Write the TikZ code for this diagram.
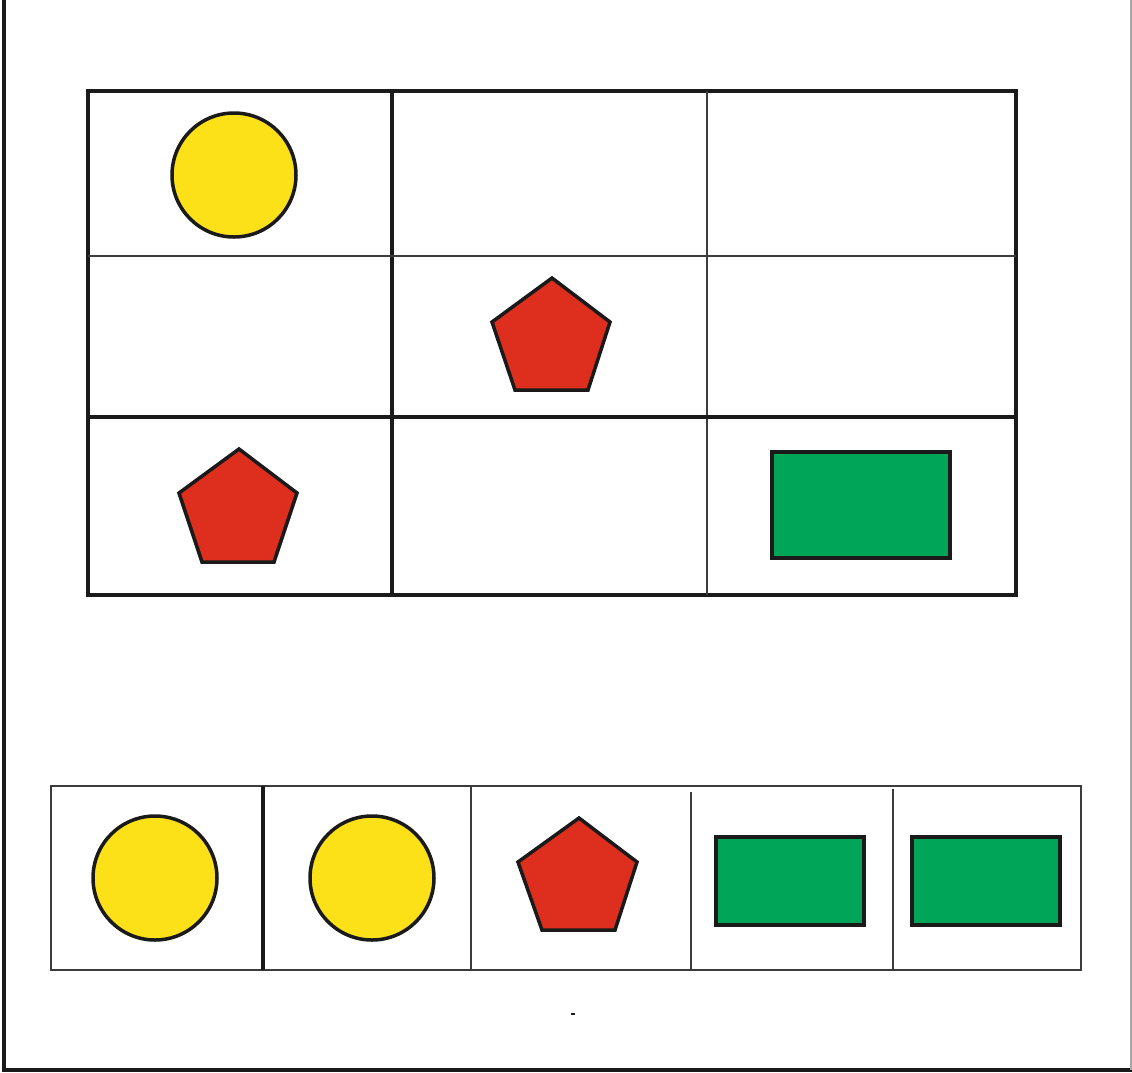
\documentclass[tikz,border=0pt]{standalone}
\definecolor{shpyellow}{HTML}{FCE118}
\definecolor{shpred}{HTML}{DE2E1E}
\definecolor{shpgreen}{HTML}{00A557}
\definecolor{ink}{HTML}{1A1A1A}
\begin{document}
\begin{tikzpicture}[x=1pt,y=-1pt,
  gridline/.style={draw=ink,line width=3.5pt},
  thinline/.style={draw=ink!85,line width=2pt},
  shp/.style={draw=ink,line width=3.5pt,line join=miter},
  circ/.style={shp,fill=shpyellow},
  pent/.style={shp,fill=shpred},
  rectshp/.style={shp,fill=shpgreen}]
\useasboundingbox (0,0) rectangle (1132,1072);
% page frame
\draw[draw=ink,line width=3.5pt] (4,0) -- (4,1070) -- (1132,1070);
\draw[draw=gray!70,line width=2pt] (1131,0) -- (1131,1070);
% top grid
\draw[gridline] (88,91) rectangle (1016,595);
\draw[gridline] (392,91) -- (392,595);
\draw[thinline] (707,91) -- (707,595);
\draw[thinline] (88,256) -- (1016,256);
\draw[gridline] (88,417) -- (1016,417);
% top shapes
\path[circ] (234,175) circle (62);
\path[pent] (552,278) -- (610,322) -- (588,390) -- (515,390) -- (492,322) -- cycle;
\path[pent] (239,449) -- (297,493) -- (274,562) -- (202,562) -- (179,493) -- cycle;
\path[rectshp] (772,452) rectangle (950,558);
% bottom strip
\draw[thinline,line width=2.5pt] (51,786) rectangle (1081,970);
\draw[gridline] (263,786) -- (263,970);
\draw[thinline] (471,786) -- (471,970);
\draw[thinline] (691,792) -- (691,970);
\draw[thinline] (893,789) -- (893,970);
\path[circ] (155,878) circle (62);
\path[circ] (372,878) circle (62);
\path[pent] (579,818) -- (637,862) -- (615,930) -- (542,930) -- (518,862) -- cycle;
\path[rectshp] (716,837) rectangle (864,925);
\path[rectshp] (912,837) rectangle (1060,925);
% small mark
\draw[draw=ink,line width=1.5pt] (571,1014) -- (575,1014);
\end{tikzpicture}
\end{document}
